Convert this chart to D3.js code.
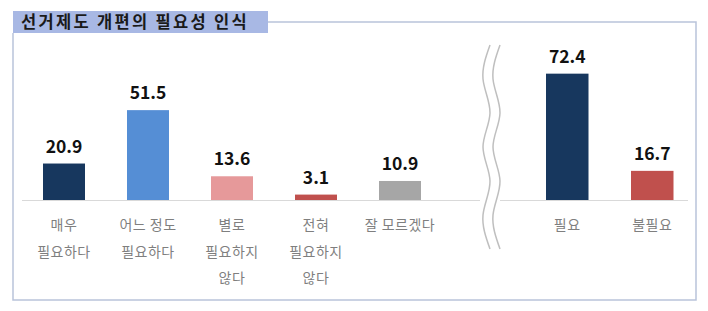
<!DOCTYPE html>
<html>
<head>
<meta charset="utf-8">
<script src="https://cdn.jsdelivr.net/npm/d3@7"></script>
<style>
  body { margin: 0; background: #fff; }
  svg { display: block; font-family: "Noto Sans CJK KR", "Noto Sans", sans-serif; }
</style>
</head>
<body>
<div id="chart"></div>
<script>
// data
const titleText = "선거제도 개편의 필요성 인식";
const leftCategories = ["매우\n필요하다", "어느 정도\n필요하다", "별로\n필요하지\n않다", "전혀\n필요하지\n않다", "잘 모르겠다"];
const leftValues = [20.9, 51.5, 13.6, 3.1, 10.9];
const leftColors = ["#17375e", "#558ed5", "#e6999a", "#c0504d", "#a6a6a6"];
const rightCategories = ["필요", "불필요"];
const rightValues = [72.4, 16.7];
const rightColors = ["#17375e", "#c0504d"];

const width = 708, height = 311;
const baseY = 200;

const svg = d3.select("#chart")
  .append("svg")
  .attr("width", width)
  .attr("height", height);

// frame
const frameColor = "#b9c3da";
svg.append("path")
  .attr("d", "M13,33 V300 H696 V22 H268")
  .attr("fill", "none")
  .attr("stroke", frameColor)
  .attr("stroke-width", 1.5);

// title box
svg.append("rect")
  .attr("x", 13).attr("y", 11)
  .attr("width", 255).attr("height", 22)
  .attr("fill", "#a8b8e4");
svg.append("text")
  .attr("x", 21).attr("y", 28)
  .attr("font-size", 16.5)
  .attr("font-weight", "bold")
  .attr("letter-spacing", 2.3)
  .attr("fill", "#1a1a1a")
  .text(titleText);

// y scale shared by both segments
const y = d3.scaleLinear().domain([0, 80]).range([baseY, baseY - 139.6]);

const xLeft = d3.scaleBand()
  .domain(leftCategories)
  .range([22, 442])
  .paddingInner(0.5)
  .paddingOuter(0.25);

const xRight = d3.scaleBand()
  .domain(rightCategories)
  .range([524.75, 694.75])
  .paddingInner(0.5)
  .paddingOuter(0.25);

// baselines
svg.append("line")
  .attr("x1", 22).attr("x2", 480)
  .attr("y1", baseY + 0.5).attr("y2", baseY + 0.5)
  .attr("stroke", "#d9d9d9").attr("stroke-width", 1);
svg.append("line")
  .attr("x1", 500).attr("x2", 688)
  .attr("y1", baseY + 0.5).attr("y2", baseY + 0.5)
  .attr("stroke", "#d9d9d9").attr("stroke-width", 1);

function drawBars(cats, vals, colors, x) {
  const data = cats.map((c, i) => ({cat: c, value: vals[i], color: colors[i]}));
  const g = svg.append("g");

  g.selectAll("rect")
    .data(data)
    .join("rect")
    .attr("x", d => x(d.cat))
    .attr("y", d => y(d.value))
    .attr("width", x.bandwidth())
    .attr("height", d => baseY - y(d.value))
    .attr("fill", d => d.color);

  g.selectAll("text.val")
    .data(data)
    .join("text")
    .attr("class", "val")
    .attr("x", d => x(d.cat) + x.bandwidth() / 2)
    .attr("y", d => y(d.value) - 11)
    .attr("text-anchor", "middle")
    .attr("font-size", 17.5)
    .attr("font-weight", "bold")
    .attr("fill", "#111")
    .text(d => d.value.toFixed(1));

  const labels = g.selectAll("text.cat")
    .data(data)
    .join("text")
    .attr("class", "cat")
    .attr("text-anchor", "middle")
    .attr("font-size", 14)
    .attr("letter-spacing", 0.5)
    .attr("fill", "#7f7f7f");
  labels.each(function(d) {
    const t = d3.select(this);
    d.cat.split("\n").forEach((line, i) => {
      t.append("tspan")
        .attr("x", x(d.cat) + x.bandwidth() / 2)
        .attr("y", baseY + 30 + i * 26.5)
        .text(line);
    });
  });
}

drawBars(leftCategories, leftValues, leftColors, xLeft);
drawBars(rightCategories, rightValues, rightColors, xRight);

// axis break: two wavy lines
const wave = d3.line().curve(d3.curveNatural);
function wavePoints(x0) {
  const pts = [];
  for (let yy = 45, k = 0; yy <= 252; yy += 34, k++) {
    pts.push([x0 + (k % 2 === 0 ? 3 : -4), yy]);
  }
  return pts;
}
[487, 497].forEach(x0 => {
  svg.append("path")
    .attr("d", wave(wavePoints(x0)))
    .attr("fill", "none")
    .attr("stroke", "#bfbfbf")
    .attr("stroke-width", 1.5);
});
</script>
</body>
</html>
